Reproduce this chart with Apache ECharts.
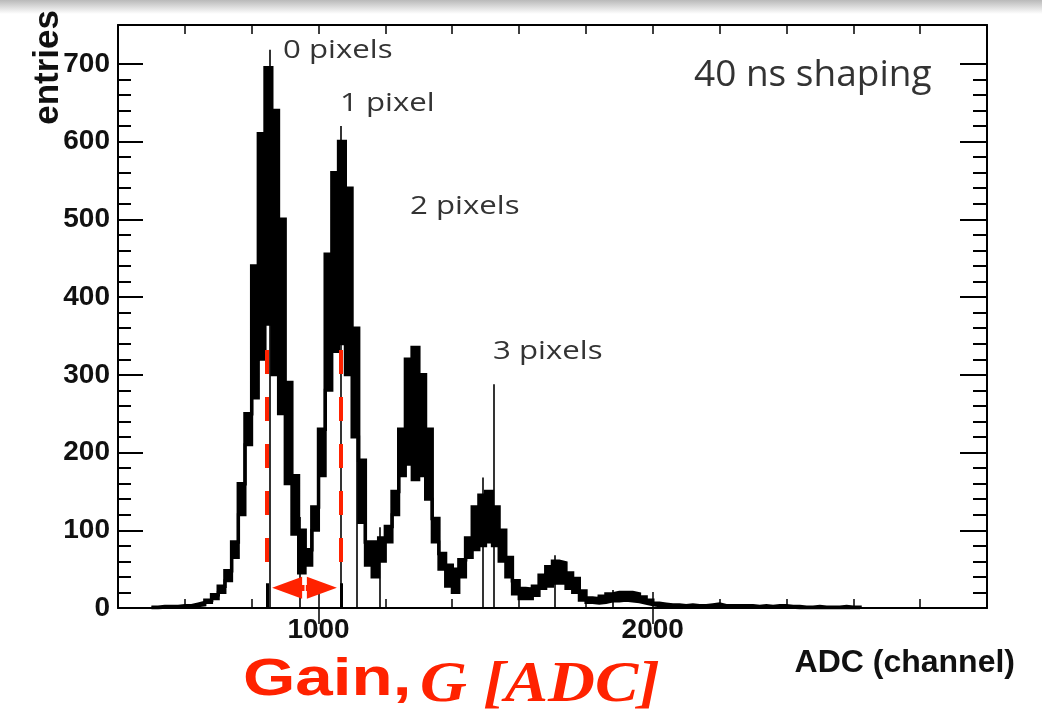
<!DOCTYPE html>
<html><head><meta charset="utf-8">
<script src="https://cdn.jsdelivr.net/npm/echarts@6/dist/echarts.min.js"></script>
<style>html,body{margin:0;padding:0;background:#fff}#c{width:1042px;height:716px}</style>
</head><body><div id="c"></div>
<script>
// ---- data (ADC channel, entries) ----
const binStart = 500;
const binWidth = 20;
// upper / lower envelope of the noisy fine-binned histogram, per 20-ADC bin
const upper = [1,2,2,2,3,3,5,7,10,17,28,48,85,160,250,440,610,695,640,500,290,170,100,75,130,230,455,560,600,540,360,190,85,85,90,105,150,230,320,335,300,230,115,70,55,50,62,90,130,145,150,130,100,65,35,25,24,28,42,53,60,58,45,38,22,13,12,15,18,20,20,20,18,14,10,6,5,4,4,3,4,3,3,4,5,3,3,3,3,3,2,3,2,3,3,2,2,1,1,2,1,1,1,2,1,1];
const lower = [0,1,1,1,1,2,3,4,7,12,20,35,65,120,210,270,320,365,300,250,160,95,45,55,100,170,280,330,340,300,220,110,55,40,60,85,120,170,185,165,170,140,85,50,28,20,40,65,75,80,85,80,60,40,18,12,12,16,25,28,32,32,25,20,10,7,6,7,9,9,10,9,8,6,4,3,2,2,1,1,2,1,1,1,2,1,1,1,1,1,1,1,1,1,1,1,0,0,0,0,0,0,0,0,0,0];
// single-bin spikes [ADC, entries]
const spikes = [[853,718],[1067,620],[1115,355],[945,117],[1184,104],[1492,168],[1525,288],[1707,68],[1881,23]];
// gain annotation: peak positions, dashed-line span, bar height, arrow level
const gainPeaks = [846, 1067];
const dashSpan = [332, 59];
const barHeight = 32;
const arrowY = 26;
const arrowHeads = [906, 1010];
const arrowGap = [958, 962];
// tick values
const xMajor = [1000, 2000];
const xMinorStep = 200;
const yMajor = [0,100,200,300,400,500,600,700];
const yMinorStep = 20;

const X_MIN = 400, X_MAX = 3000, Y_MIN = 0, Y_MAX = 750;

const upPts = [], loPts = [];
for (let i = 0; i < upper.length; i++) {
  const b = binStart + i * binWidth;
  upPts.push([b, upper[i]]);
  loPts.push([b, lower[i]]);
}
const binEnd = binStart + upper.length * binWidth;
upPts.push([binEnd, 0]);
loPts.push([binEnd, 0]);

const xAll = [];
for (let v = X_MIN; v <= X_MAX; v += xMinorStep) xAll.push(v);
const yMinor = [];
for (let v = yMinorStep; v < yMajor[yMajor.length - 1]; v += yMinorStep) if (v % 100 !== 0) yMinor.push(v);

const lblFont = {fontFamily: '"Liberation Sans", Arial, sans-serif', fontWeight: 'bold', fontSize: 28, color: '#111'};
const axLine = {show: true, onZero: false, lineStyle: {color: '#000', width: 2}};

function xAx(pos, ticks, len, labels, line) {
  return {type: 'value', min: X_MIN, max: X_MAX, interval: xMinorStep, position: pos, z: 6,
    axisLine: line ? axLine : {show: false},
    axisTick: {show: true, inside: true, length: len, customValues: ticks, lineStyle: {color: '#000', width: 1.5}},
    axisLabel: labels ? Object.assign({show: true, margin: 8, customValues: xMajor, formatter: v => String(v)}, lblFont) : {show: false},
    splitLine: {show: false}};
}
function yAx(pos, ticks, len, labels, line) {
  return {type: 'value', min: Y_MIN, max: Y_MAX, interval: 100, position: pos, z: 6,
    axisLine: line ? axLine : {show: false},
    axisTick: {show: true, inside: true, length: len, customValues: ticks, lineStyle: {color: '#000', width: 2}},
    axisLabel: labels ? Object.assign({show: true, margin: 8, customValues: yMajor, formatter: v => String(v)}, lblFont) : {show: false},
    splitLine: {show: false}};
}

const RED = '#ff2200';
const chart = echarts.init(document.getElementById('c'), null, {renderer: 'canvas'});
chart.setOption({
  animation: false,
  backgroundColor: '#fff',
  grid: {left: 118, right: 55, top: 25, bottom: 108},
  xAxis: [xAx('bottom', xAll, 9, true, true), xAx('bottom', xMajor, 16, false, false),
          xAx('top', xAll, 9, false, true), xAx('top', xMajor, 16, false, false)],
  yAxis: [yAx('left', yMajor, 25, true, true), yAx('left', yMinor, 13, false, false),
          yAx('right', yMajor, 27, false, true), yAx('right', yMinor, 14, false, false)],
  series: [
    // black fill up to the upper envelope
    {type: 'line', data: upPts, step: 'end', symbol: 'none', z: 2,
     lineStyle: {width: 0, opacity: 0}, areaStyle: {color: '#000', opacity: 1}},
    // white fill up to the lower envelope (leaves the noise band black)
    {type: 'line', data: loPts, step: 'end', symbol: 'none', z: 3,
     lineStyle: {width: 0, opacity: 0}, areaStyle: {color: '#fff', opacity: 1}},
    // outlines
    {type: 'line', data: upPts, step: 'end', symbol: 'none', z: 4,
     lineStyle: {color: '#000', width: 3.5, join: 'miter'}},
    {type: 'line', data: loPts, step: 'end', symbol: 'none', z: 4,
     lineStyle: {color: '#000', width: 3, join: 'miter'}},
    {type: 'lines', coordinateSystem: 'cartesian2d', z: 4,
     data: spikes.map(s => ({coords: [[s[0], 0], [s[0], s[1]]]})),
     lineStyle: {color: '#000', width: 1.6, opacity: 1}},
    {type: 'lines', coordinateSystem: 'cartesian2d', z: 7,
     data: gainPeaks.map(x => ({coords: [[x, dashSpan[0]], [x, dashSpan[1]]]})),
     lineStyle: {color: RED, width: 4, type: [24, 23], opacity: 1}},
    {type: 'lines', coordinateSystem: 'cartesian2d', z: 7,
     data: gainPeaks.map(x => ({coords: [[x, 0], [x, barHeight]]})),
     lineStyle: {color: '#000', width: 3, opacity: 1}},
    {type: 'lines', coordinateSystem: 'cartesian2d', z: 7,
     data: [{coords: [[arrowHeads[0], arrowY], [arrowGap[0], arrowY]]}, {coords: [[arrowGap[1], arrowY], [arrowHeads[1], arrowY]]}],
     lineStyle: {color: RED, width: 6, opacity: 1}},
    {type: 'scatter', z: 8, symbol: 'triangle', symbolSize: [22, 30],
     data: [{value: [arrowHeads[0], arrowY], symbolRotate: 90}, {value: [arrowHeads[1], arrowY], symbolRotate: -90}],
     itemStyle: {color: RED, opacity: 1}}
  ],
  graphic: [
    {type: 'rect', left: 0, top: 0, z: 10, shape: {width: 1042, height: 14},
     style: {fill: new echarts.graphic.LinearGradient(0, 0, 0, 1, [{offset: 0, color: '#b9b9b9'}, {offset: 1, color: '#ffffff'}])}},
    {type: 'text', x: 48, y: 10, rotation: Math.PI / 2, z: 10,
     style: {text: 'entries', font: 'bold 35px "Liberation Sans", Arial, sans-serif', align: 'right', verticalAlign: 'middle', fill: '#111'}},
    {type: 'text', x: 283, y: 51, scaleX: 1.2, z: 10,
     style: {text: '0 pixels', font: '26px "Open Sans", sans-serif', align: 'left', verticalAlign: 'middle', fill: '#333'}},
    {type: 'text', x: 340, y: 104, scaleX: 1.2, z: 10,
     style: {text: '1 pixel', font: '26px "Open Sans", sans-serif', align: 'left', verticalAlign: 'middle', fill: '#333'}},
    {type: 'text', x: 410, y: 207, scaleX: 1.2, z: 10,
     style: {text: '2 pixels', font: '26px "Open Sans", sans-serif', align: 'left', verticalAlign: 'middle', fill: '#333'}},
    {type: 'text', x: 493, y: 352, scaleX: 1.2, z: 10,
     style: {text: '3 pixels', font: '26px "Open Sans", sans-serif', align: 'left', verticalAlign: 'middle', fill: '#333'}},
    {type: 'text', x: 694, y: 75, z: 10,
     style: {text: '40 ns shaping', font: '37px "Open Sans", sans-serif', align: 'left', verticalAlign: 'middle', fill: '#333'}},
    {type: 'text', x: 1015, y: 663, z: 10,
     style: {text: 'ADC (channel)', font: 'bold 32px "Liberation Sans", Arial, sans-serif', align: 'right', verticalAlign: 'middle', fill: '#111'}},
    {type: 'text', x: 243, y: 681, scaleX: 1.32, z: 10,
     style: {text: 'Gain,', font: 'bold 51px "Liberation Sans", Arial, sans-serif', align: 'left', verticalAlign: 'middle', fill: RED}},
    {type: 'text', x: 420, y: 686, scaleX: 1.12, z: 10,
     style: {text: 'G [ADC]', font: 'italic bold 58px "Liberation Serif", "Times New Roman", serif', align: 'left', verticalAlign: 'middle', fill: RED}}
  ]
});
</script></body></html>
